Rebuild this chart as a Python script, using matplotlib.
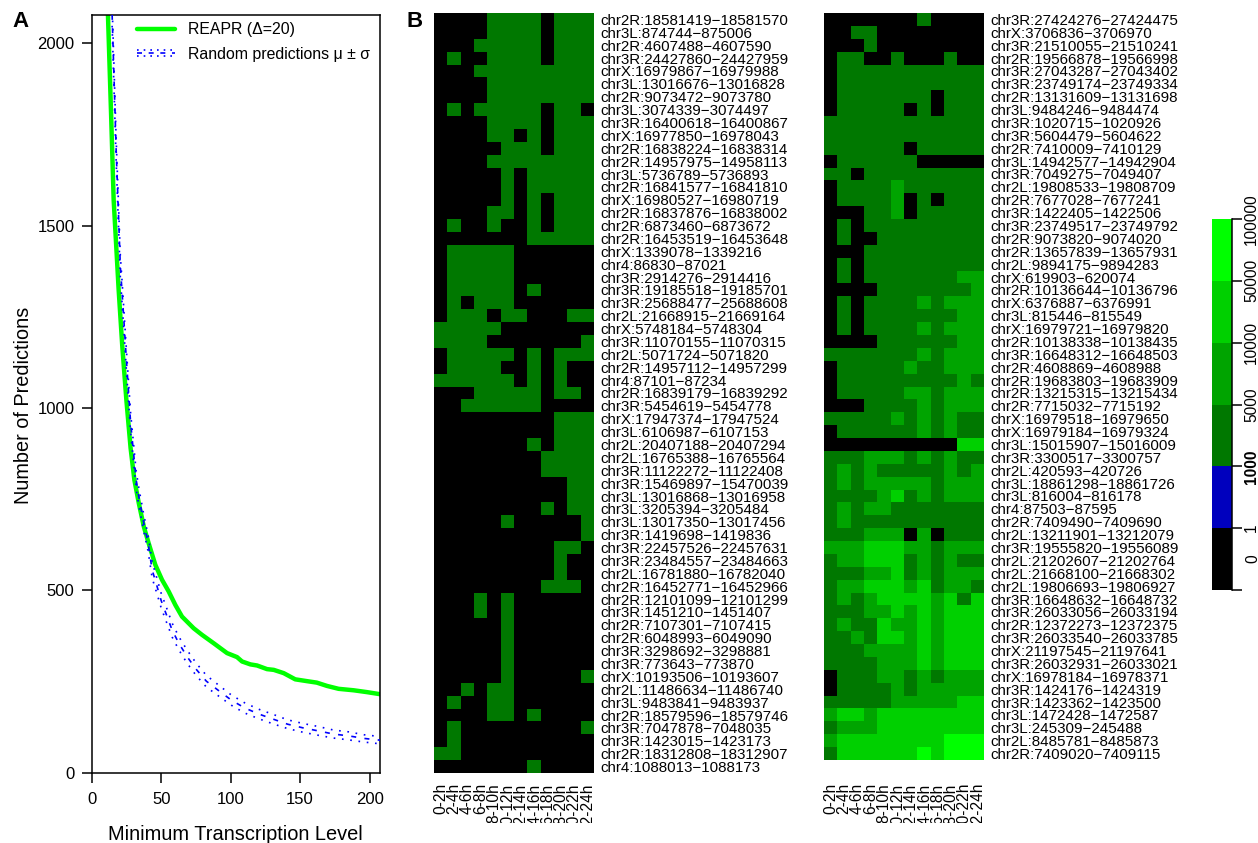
#!/usr/bin/env python3
"""
Panel A: curva de predicciones, panel B: mapas de calor por intervalo de tiempo
"""

import matplotlib
matplotlib.use("Agg")
import matplotlib.pyplot as plt
import numpy as np
from matplotlib.colors import BoundaryNorm, ListedColormap
from matplotlib.legend_handler import HandlerBase
from matplotlib.lines import Line2D
from matplotlib.transforms import Bbox

plt.rcParams['font.family'] = ['Liberation Sans', 'DejaVu Sans']

ANCHO, ALTO = 1258, 843

# Panel A
reapr_x = [11.7, 14, 15.8, 19.4, 22, 25, 28, 30.7, 33.9, 37.5, 41, 45.8, 50.6, 55.4, 60.2, 65, 73.4,
           79.4, 87.8, 97.4, 104.6, 108.2, 114.2, 119, 126.2, 131, 138.2, 146.5, 155, 162, 169.3,
           177.7, 188.5, 198, 208]
reapr_y = [2078, 1800, 1571, 1324, 1170, 1020, 890, 803, 739, 675, 629, 570, 529, 497, 460, 428, 396,
           378, 355, 328, 317, 305, 297, 294, 284, 282, 273, 256, 251, 247, 238,
           230, 226, 221, 215]
azar_x = [14.7, 17.6, 20.6, 21.9, 25, 28, 32, 33.9, 37.5, 40.6, 43.5, 47.1, 50, 53.8, 57.9, 62.7, 68.7,
          75.1, 82.5, 91.4, 100.5, 109.9, 120.2, 130.5, 141, 152, 162.6, 174, 184.9, 196, 208]
azar_media = [2078, 1708, 1389, 1315, 1130, 960, 803, 757, 684, 629, 556, 510, 472, 433, 391, 355, 318,
              284, 251, 225, 199, 178, 161, 147, 133, 123, 115, 106, 101, 94, 89]
azar_sd = [30, 30, 30, 30, 28, 26, 24, 24, 23, 22, 22, 21, 20, 20, 19, 18, 18,
           17, 16, 15, 14, 14, 13, 13, 12, 12, 12, 11, 11, 10, 10]

# Panel B
intervalos = ['0-2h', '2-4h', '4-6h', '6-8h', '8-10h', '10-12h',
              '12-14h', '14-16h', '16-18h', '18-20h', '20-22h', '22-24h']

regiones_izq = [
    'chr2R:18581419−18581570', 'chr3L:874744−875006', 'chr2R:4607488−4607590',
    'chr3R:24427860−24427959', 'chrX:16979867−16979988', 'chr3L:13016676−13016828',
    'chr2R:9073472−9073780', 'chr3L:3074339−3074497', 'chr3R:16400618−16400867',
    'chrX:16977850−16978043', 'chr2R:16838224−16838314', 'chr2R:14957975−14958113',
    'chr3L:5736789−5736893', 'chr2R:16841577−16841810', 'chrX:16980527−16980719',
    'chr2R:16837876−16838002', 'chr2R:6873460−6873672', 'chr2R:16453519−16453648',
    'chrX:1339078−1339216', 'chr4:86830−87021', 'chr3R:2914276−2914416',
    'chr3R:19185518−19185701', 'chr3R:25688477−25688608', 'chr2L:21668915−21669164',
    'chrX:5748184−5748304', 'chr3R:11070155−11070315', 'chr2L:5071724−5071820',
    'chr2R:14957112−14957299', 'chr4:87101−87234', 'chr2R:16839179−16839292',
    'chr3R:5454619−5454778', 'chrX:17947374−17947524', 'chr3L:6106987−6107153',
    'chr2L:20407188−20407294', 'chr2L:16765388−16765564', 'chr3R:11122272−11122408',
    'chr3R:15469897−15470039', 'chr3L:13016868−13016958', 'chr3L:3205394−3205484',
    'chr3L:13017350−13017456', 'chr3R:1419698−1419836', 'chr3R:22457526−22457631',
    'chr3R:23484557−23484663', 'chr2L:16781880−16782040', 'chr2R:16452771−16452966',
    'chr2R:12101099−12101299', 'chr3R:1451210−1451407', 'chr2R:7107301−7107415',
    'chr2R:6048993−6049090', 'chr3R:3298692−3298881', 'chr3R:773643−773870',
    'chrX:10193506−10193607', 'chr2L:11486634−11486740', 'chr3L:9483841−9483937',
    'chr2R:18579596−18579746', 'chr3R:7047878−7048035', 'chr3R:1423015−1423173',
    'chr2R:18312808−18312907', 'chr4:1088013−1088173',
]

# un digito por intervalo: 0 negro, 1 azul, 2-5 verdes de oscuro a claro
niveles_izq = [
    '000022220222', '000022220222', '000222220222', '020022220222', '000222222222',
    '000022222222', '000022222222', '020222220220', '000022220222', '000022020222',
    '000002220222', '000022222222', '000002022222', '000002022222', '000002020222',
    '000022020222', '020020020222', '000000022222', '022222000000', '022222000000',
    '022222000000', '022222020000', '020222000000', '022202200022', '222220000000',
    '222200000002', '022222020222', '022220020200', '222222020200', '000222220220',
    '002222220000', '000000000222', '000000000222', '000000020222', '000000002222',
    '000000002222', '000000000022', '000000000022', '000000002022', '000002000002',
    '000000000002', '000000000220', '000000000200', '000000000200', '000000002220',
    '000202000000', '000202000000', '000002000000', '000002000000', '000002000000',
    '000002000000', '000002000002', '002022000000', '020022000000', '000022020000',
    '020000000002', '020000000000', '220000000000', '000000020000',
]

regiones_der = [
    'chr3R:27424276−27424475', 'chrX:3706836−3706970', 'chr3R:21510055−21510241',
    'chr2R:19566878−19566998', 'chr3R:27043287−27043402', 'chr3R:23749174−23749334',
    'chr2R:13131609−13131698', 'chr3L:9484246−9484474', 'chr3R:1020715−1020926',
    'chr3R:5604479−5604622', 'chr2R:7410009−7410129', 'chr3L:14942577−14942904',
    'chr3R:7049275−7049407', 'chr2L:19808533−19808709', 'chr2R:7677028−7677241',
    'chr3R:1422405−1422506', 'chr3R:23749517−23749792', 'chr2R:9073820−9074020',
    'chr2R:13657839−13657931', 'chr2L:9894175−9894283', 'chrX:619903−620074',
    'chr2R:10136644−10136796', 'chrX:6376887−6376991', 'chr3L:815446−815549',
    'chrX:16979721−16979820', 'chr2R:10138338−10138435', 'chr3R:16648312−16648503',
    'chr2R:4608869−4608988', 'chr2R:19683803−19683909', 'chr2R:13215315−13215434',
    'chr2R:7715032−7715192', 'chrX:16979518−16979650', 'chrX:16979184−16979324',
    'chr3L:15015907−15016009', 'chr3R:3300517−3300757', 'chr2L:420593−420726',
    'chr3L:18861298−18861726', 'chr3L:816004−816178', 'chr4:87503−87595',
    'chr2R:7409490−7409690', 'chr2L:13211901−13212079', 'chr3R:19555820−19556089',
    'chr2L:21202607−21202764', 'chr2L:21668100−21668302', 'chr2L:19806693−19806927',
    'chr3R:16648632−16648732', 'chr3R:26033056−26033194', 'chr2R:12372273−12372375',
    'chr3R:26033540−26033785', 'chrX:21197545−21197641', 'chr3R:26032931−26033021',
    'chrX:16978184−16978371', 'chr3R:1424176−1424319', 'chr3R:1423362−1423500',
    'chr3L:1472428−1472587', 'chr3L:245309−245488', 'chr2L:8485781−8485873',
    'chr2R:7409020−7409115',
]

niveles_der = [
    '000000020000', '002200000000', '000200000000', '022002000200', '022222222222',
    '022222222222', '022222220222', '022222020222', '222222222222', '222222222222',
    '222222022222', '022222200000', '220222222222', '022223222222', '022223020222',
    '000223022222', '020222222222', '020022222222', '000222222222', '020222222222',
    '020222222233', '000022222223', '020222232333', '020222222233', '020222232333',
    '000022222233', '222222232333', '022222322333', '022222222232', '022222332333',
    '000222232333', '222223232322', '022222232322', '000000000044', '222333232322',
    '232322222323', '232333332333', '222234232333', '232332222222', '232222222222',
    '222333030222', '333444332333', '233444232322', '222334232333', '233444342332',
    '232344443424', '222334343444', '232243343444', '223244343444', '222333343444',
    '222233343444', '022233232333', '022223233333', '222223333344', '344344444444',
    '233344444444', '344444444555', '244444454555',
]

colores_escala = ['#000000', '#0000BE', '#007800', '#00A400', '#00D000', '#00FF00']
etiquetas_escala = ['1', '1000', '5000', '10000', '50000', '100000']


def caja(x0, y0, x1, y1):
    """Posicion de un eje a partir de pixeles de la imagen"""
    return [x0 / ANCHO, 1 - y1 / ALTO, (x1 - x0) / ANCHO, (y1 - y0) / ALTO]


class HandlerBanda(HandlerBase):
    """Media con dos lineas de puntos, como en la curva al azar"""

    def create_artists(self, legend, orig_handle, xdescent, ydescent, width, height, fontsize, trans):
        lineas = []
        centro = height / 2 - ydescent
        for dy, estilo in [(2.2, (0, (1, 3))), (0, (0, (3, 4))), (-2.2, (0, (1, 3)))]:
            linea = Line2D([-xdescent, width - xdescent], [centro + dy, centro + dy],
                           color='#0000FF', linewidth=1.2, linestyle=estilo, transform=trans)
            lineas.append(linea)
        return lineas


def dibujar_curvas(fig):
    ax = fig.add_axes(caja(91.7, 14.5, 380, 772.7))
    ax.plot(reapr_x, reapr_y, color='#00FF00', linewidth=3.2, solid_capstyle='round', zorder=2,
            label='REAPR (Δ=20)')

    media = np.array(azar_media)
    sd = np.array(azar_sd)
    linea_media, = ax.plot(azar_x, media, color='#0000FF', linewidth=1.2, linestyle=(0, (3, 5)), zorder=3,
                           label='Random predictions μ ± σ')
    ax.plot(azar_x, media + sd, color='#0000FF', linewidth=1.2, linestyle=(0, (1, 4)), zorder=3)
    ax.plot(azar_x, media - sd, color='#0000FF', linewidth=1.2, linestyle=(0, (1, 4)), zorder=3)

    ax.set_xlim(0, 207.5)
    ax.set_ylim(0, 2079)
    ax.set_xticks([0, 50, 100, 150, 200])
    ax.set_yticks([0, 500, 1000, 1500, 2000])
    ax.tick_params(length=7.5, width=1.1, labelsize=12)
    ax.tick_params(axis='x', pad=6.2)
    ax.tick_params(axis='y', pad=5)
    for spine in ax.spines.values():
        spine.set_linewidth(1.1)
    ax.set_xlabel('Minimum Transcription Level', fontsize=14.4, labelpad=13.5)
    ax.set_ylabel('Number of Predictions', fontsize=14.3, y=0.484, labelpad=3)

    handles, labels = ax.get_legend_handles_labels()
    ax.legend(handles, labels, loc='upper left', bbox_to_anchor=(0.156, 0.99), frameon=False,
              fontsize=11.4, handlelength=2.45, handletextpad=0.78, labelspacing=0.6,
              borderaxespad=0, borderpad=0, handler_map={linea_media: HandlerBanda()})


def dibujar_mapa(fig, posicion, niveles, regiones, pad_abajo, cmap, norm):
    ax = fig.add_axes(caja(*posicion))
    matriz = np.array([[int(c) for c in fila] for fila in niveles])
    ax.pcolormesh(matriz, cmap=cmap, norm=norm)
    ax.set_ylim(len(niveles), 0)
    ax.set_xlim(0, len(intervalos))
    for spine in ax.spines.values():
        spine.set_visible(False)

    ax.yaxis.tick_right()
    ax.set_yticks(np.arange(len(regiones)) + 0.5)
    ax.set_yticklabels(regiones, fontsize=10.9)
    ax.set_xticks(np.arange(len(intervalos)) + 0.5)
    ax.set_xticklabels(intervalos, rotation=90, fontsize=11.2)
    ax.tick_params(axis='y', length=0, pad=4.3)
    ax.tick_params(axis='x', length=0, pad=pad_abajo)

    # en el original las etiquetas largas quedan cortadas abajo
    for etiqueta in ax.get_xticklabels():
        etiqueta.set_clip_on(True)
        etiqueta.set_clip_box(Bbox([[0, ALTO - 823], [ANCHO, ALTO]]))


def dibujar_escala(fig, cmap, norm):
    ax = fig.add_axes(caja(1212, 219, 1232, 590))
    valores = np.arange(len(colores_escala)).reshape(-1, 1)
    ax.pcolormesh(valores, cmap=cmap, norm=norm)
    ax.set_xticks([])
    for lado in ['left', 'top', 'bottom']:
        ax.spines[lado].set_visible(False)
    ax.spines['right'].set_linewidth(1.1)
    ax.yaxis.tick_right()
    ax.set_yticks(np.arange(len(colores_escala) + 1))
    ax.set_yticklabels([''] + etiquetas_escala, rotation=90, va='center', fontsize=11.2)
    ax.set_yticks([0.5], labels=['0'], minor=True, rotation=90, va='center', fontsize=11.2)
    ax.tick_params(axis='y', which='major', length=7.5, width=1.1, pad=1.2)
    ax.tick_params(axis='y', which='minor', length=0, pad=9.5)
    # el 1000 se ve en negrita en el original
    ax.get_yticklabels()[2].set_fontweight('bold')


def main():
    fig = plt.figure(figsize=(ANCHO / 100, ALTO / 100), dpi=100)
    cmap = ListedColormap(colores_escala)
    norm = BoundaryNorm(np.arange(len(colores_escala) + 1) - 0.5, cmap.N)

    dibujar_curvas(fig)
    dibujar_mapa(fig, (434, 13, 594, 773), niveles_izq, regiones_izq, 7.2, cmap, norm)
    dibujar_mapa(fig, (824, 13, 984, 760), niveles_der, regiones_der, 16.5, cmap, norm)
    dibujar_escala(fig, cmap, norm)

    fig.text(12 / ANCHO, 1 - 27 / ALTO, 'A', fontsize=16, fontweight='bold')
    fig.text(407 / ANCHO, 1 - 27 / ALTO, 'B', fontsize=16, fontweight='bold')

    fig.savefig('out.png', dpi=100)


if __name__ == "__main__":
    main()
